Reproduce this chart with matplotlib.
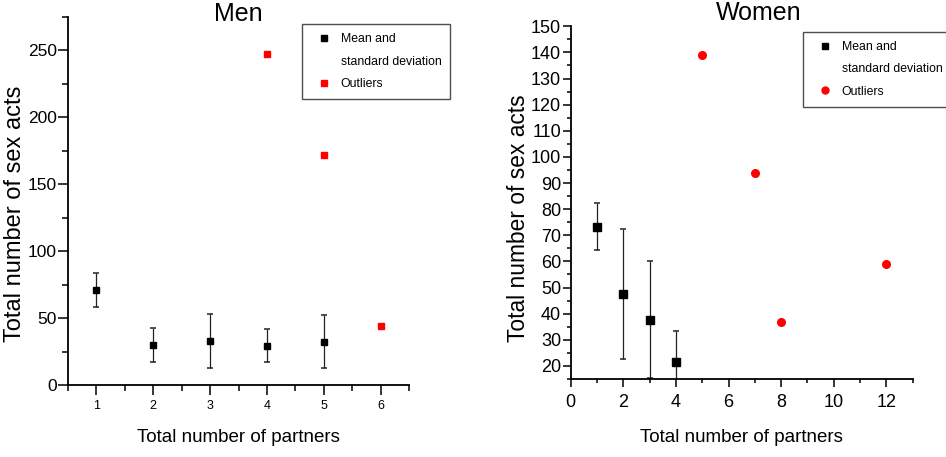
import matplotlib
matplotlib.use("Agg")
import matplotlib.pyplot as plt
from matplotlib.ticker import MultipleLocator
from matplotlib.lines import Line2D

FONT = ["Liberation Sans", "DejaVu Sans"]
plt.rcParams["font.family"] = FONT

# Men data
men_x = [1, 2, 3, 4, 5]
men_mean = [71, 29.7, 33, 29, 32]
men_upper = [84, 42.7, 53.4, 41.7, 52]
men_lower = [58, 17, 12.5, 17.2, 13]
men_out_x = [4, 5, 6]
men_out_y = [247, 172, 44]

# Women data
women_x = [1, 2, 3, 4]
women_mean = [73.1, 47.5, 37.7, 21.4]
women_upper = [82.2, 72.5, 60.2, 33.4]
women_lower = [64.2, 22.6, 15.3, 9.4]
women_out_x = [5, 7, 8, 12]
women_out_y = [138.9, 93.9, 36.9, 58.9]

legend_rows = ["Mean and", "standard deviation", "Outliers"]

W, H = 946, 457
fig = plt.figure(figsize=(W/100, H/100), dpi=100)
ax1 = fig.add_axes([68/W, 1-385/H, 341/W, 368/H])
ax2 = fig.add_axes([570.7/W, 1-379/H, 342/W, (379-26.3)/H])

def style(ax, major_len, minor_len):
    for s in ["top", "right"]:
        ax.spines[s].set_visible(False)
    for s in ["left", "bottom"]:
        ax.spines[s].set_linewidth(1.3)
    ax.tick_params(which="major", direction="out", length=major_len, width=1.1)
    ax.tick_params(which="minor", direction="out", length=minor_len, width=1.1)

def errs(mean, lo, hi):
    return [[m - l for m, l in zip(mean, lo)], [h - m for m, h in zip(mean, hi)]]

def add_legend(ax, marker_out, ms_mean, ms_out, left_px, top_px):
    handles = [Line2D([], [], marker="s", color="black", ls="none", ms=ms_mean),
               Line2D([], [], marker="none", ls="none"),
               Line2D([], [], marker=marker_out, color="red", ls="none", ms=ms_out)]
    leg = ax.legend(handles, legend_rows, loc="upper left",
                    bbox_to_anchor=(left_px/W, 1-top_px/H), bbox_transform=fig.transFigure,
                    fontsize=8.8, frameon=True, fancybox=False, borderpad=0.75,
                    handlelength=2.1, handletextpad=0.3, labelspacing=0.85, borderaxespad=0)
    leg.get_frame().set_edgecolor("#222222")
    leg.get_frame().set_linewidth(1.0)
    return leg

# Men
ax1.errorbar(men_x, men_mean, yerr=errs(men_mean, men_lower, men_upper), fmt="s",
             color="black", ms=5, ecolor="#222222", elinewidth=0.9, capsize=2.3, capthick=1.1)
ax1.plot(men_out_x, men_out_y, "s", color="red", ms=5, linestyle="none")
ax1.set_xlim(0.5, 6.5)
ax1.set_ylim(0, 275)
ax1.xaxis.set_major_locator(MultipleLocator(1))
ax1.xaxis.set_minor_locator(MultipleLocator(0.5))
ax1.yaxis.set_major_locator(MultipleLocator(50))
ax1.yaxis.set_minor_locator(MultipleLocator(25))
style(ax1, 7, 4)
ax1.tick_params(axis="x", labelsize=9, pad=4)
ax1.tick_params(axis="y", labelsize=12.5, pad=1)
ax1.set_xlabel("Total number of partners", fontsize=13.5)
ax1.xaxis.set_label_coords(0.5, -0.12)
ax1.set_ylabel("Total number of sex acts", fontsize=17)
ax1.yaxis.set_label_coords(-0.122, 0.466)
fig.text(238/W, 1-14/H, "Men", ha="center", va="center", fontsize=18)
add_legend(ax1, "s", 4, 4, 302, 24.3)

# Women
ax2.errorbar(women_x, women_mean, yerr=errs(women_mean, women_lower, women_upper), fmt="s",
             color="black", ms=5.5, ecolor="#222222", elinewidth=0.9, capsize=2.3, capthick=1.1)
ax2.plot(women_out_x, women_out_y, "o", color="red", ms=5.5, linestyle="none")
ax2.set_xlim(0, 13)
ax2.set_ylim(15, 150)
ax2.xaxis.set_major_locator(MultipleLocator(2))
ax2.xaxis.set_minor_locator(MultipleLocator(1))
ax2.set_yticks(range(20, 151, 10))
ax2.yaxis.set_minor_locator(MultipleLocator(5))
style(ax2, 6, 3)
ax2.tick_params(axis="x", labelsize=13, pad=5)
ax2.tick_params(axis="y", labelsize=13, pad=1)
ax2.set_xlabel("Total number of partners", fontsize=13.5)
ax2.xaxis.set_label_coords(0.5, -0.142)
ax2.set_ylabel("Total number of sex acts", fontsize=16.4)
ax2.yaxis.set_label_coords(-0.119, 0.456)
fig.text(759/W, 1-13/H, "Women", ha="center", va="center", fontsize=18)
add_legend(ax2, "o", 4.5, 5, 803, 31.7)

fig.savefig("out.png", dpi=100)
